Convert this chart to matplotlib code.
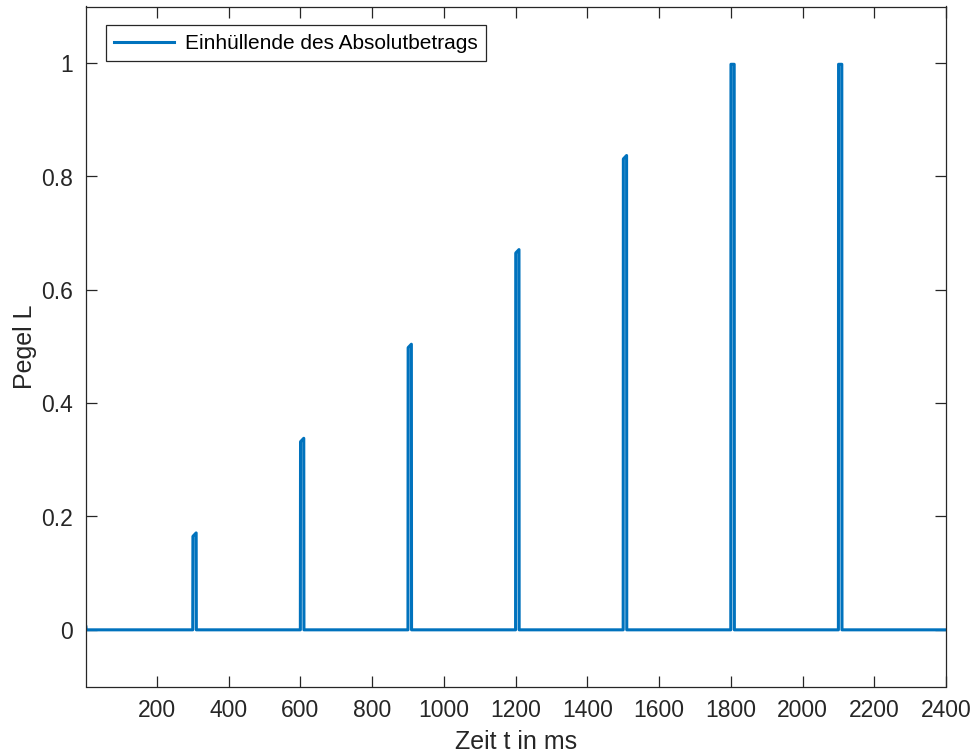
import matplotlib.pyplot as plt
import numpy as np

plt.rcParams["font.family"] = ["Liberation Sans", "DejaVu Sans"]

# pulse data (ms, level)
pulse_start = [300, 600, 900, 1200, 1500, 1800, 2100]
pulse_end = [310, 610, 910, 1210, 1510, 1810, 2110]
level_left = [0.165, 0.332, 0.498, 0.665, 0.831, 0.998, 0.998]
level_right = [0.171, 0.338, 0.504, 0.671, 0.837, 0.998, 0.998]
t_start, t_end = 1, 2400
start_bump = 0.007

# build the step waveform from the pulse table
t = [t_start, 2, 3]
y = [start_bump, start_bump, 0.0]
for s, e, a, b in zip(pulse_start, pulse_end, level_left, level_right):
    t += [s, s + 0.5, e - 0.5, e]
    y += [0.0, a, b, 0.0]
t.append(t_end)
y.append(0.0)

fig = plt.figure(figsize=(9.74, 7.56), dpi=100)
ax = fig.add_axes([85.5 / 974, 1 - 686.5 / 756, 860.5 / 974, 680 / 756])

ax.plot(t, y, color="#0072BD", linewidth=2.2, label="Einhüllende des Absolutbetrags")

ax.set_xlim(t_start, t_end)
ax.set_ylim(-0.1, 1.1)
ax.set_xticks(np.arange(200, 2401, 200))
ax.set_yticks([0, 0.2, 0.4, 0.6, 0.8, 1])
ax.set_yticklabels(["0", "0.2", "0.4", "0.6", "0.8", "1"])

dark = "#262626"
for sp in ax.spines.values():
    sp.set_color(dark)
    sp.set_linewidth(0.9)
ax.tick_params(direction="in", length=8, width=0.9, color=dark,
               top=True, right=True, labelsize=16.5, labelcolor=dark, pad=9)

ax.set_xlabel("Zeit t in ms", fontsize=18, color=dark, labelpad=6)
ax.set_ylabel("Pegel L", fontsize=18, color=dark, labelpad=3)

leg = ax.legend(loc="upper left", fontsize=15, fancybox=False, framealpha=1,
                borderaxespad=0.0, bbox_to_anchor=(20 / 860.5, 1 - 19 / 680),
                handlelength=2.9, handletextpad=0.5, borderpad=0.4)
leg.get_frame().set_edgecolor(dark)
leg.get_frame().set_linewidth(0.9)

fig.savefig("out.png", dpi=100)
